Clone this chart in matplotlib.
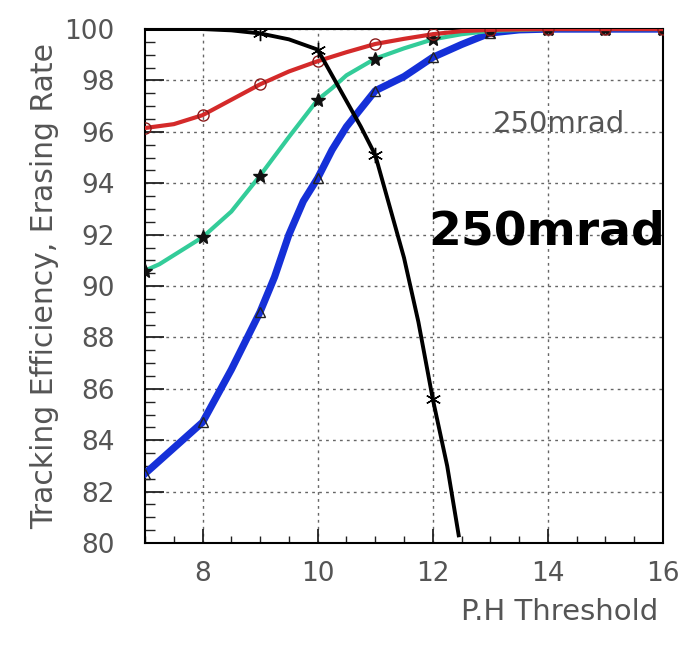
import matplotlib.pyplot as plt
from matplotlib.ticker import MultipleLocator

# P.H threshold values
x_red = [7, 7.5, 8, 8.5, 9, 9.5, 10, 10.5, 11, 11.5, 12, 12.5, 13, 14, 15, 16]
y_red = [96.15, 96.3, 96.65, 97.25, 97.85, 98.35, 98.75, 99.1, 99.42, 99.62, 99.8, 99.92, 99.97, 100, 100, 100]

x_green = [7, 7.25, 7.5, 7.75, 8, 8.5, 9, 9.5, 10, 10.25, 10.5, 11, 11.5, 12, 12.5, 13, 14, 15, 16]
y_green = [90.6, 90.85, 91.2, 91.55, 91.9, 92.9, 94.3, 95.8, 97.25, 97.7, 98.2, 98.85, 99.25, 99.6, 99.8, 99.93, 100, 100, 100]

x_blue = [7, 7.5, 8, 8.5, 9, 9.25, 9.5, 9.75, 10, 10.25, 10.5, 10.75, 11, 11.5, 12, 12.5, 13, 13.5, 14, 15, 16]
y_blue = [82.7, 83.7, 84.7, 86.75, 89.0, 90.35, 92.0, 93.3, 94.2, 95.3, 96.2, 96.9, 97.6, 98.15, 98.9, 99.4, 99.85, 99.97, 100, 100, 100]

x_black = [7, 8, 8.5, 9, 9.5, 10, 10.25, 10.5, 10.75, 11, 11.25, 11.5, 11.75, 12, 12.25, 12.45]
y_black = [100, 100, 99.95, 99.83, 99.6, 99.2, 98.2, 97.2, 96.2, 95.1, 93.1, 91.1, 88.6, 85.6, 83.0, 80.3]

text_gray = '#555555'
plt.rcParams['font.family'] = ['DejaVu Sans']

fig = plt.figure(figsize=(6.86, 6.46), dpi=100)
ax = fig.add_axes([0.2114, 0.1594, 0.7551, 0.7956])


def marks(xs, lo=7):
    return [i for i, v in enumerate(xs) if float(v).is_integer() and v >= lo]


ax.plot(x_blue, y_blue, color='#1530d8', lw=5.2, zorder=3,
        marker='^', ms=7, mfc='none', mec='#222222', mew=1.0, markevery=marks(x_blue))
ax.plot(x_green, y_green, color='#33cc99', lw=3, zorder=4,
        marker='*', ms=10, mfc='#111111', mec='#111111', markevery=marks(x_green))
ax.plot(x_red, y_red, color='#d42a2a', lw=3, zorder=5,
        marker='o', ms=8, mfc='none', mec='#8a1a1a', mew=1.0, markevery=marks(x_red))
ax.plot(x_black, y_black, color='black', lw=2.8, zorder=6,
        marker=(6, 2, 0), ms=11, mec='black', mew=1.0, markevery=marks(x_black, 9))

ax.set_xlim(7, 16)
ax.set_ylim(80, 100)
ax.xaxis.set_major_locator(MultipleLocator(2))
ax.xaxis.set_minor_locator(MultipleLocator(0.5))
ax.yaxis.set_major_locator(MultipleLocator(2))
ax.yaxis.set_minor_locator(MultipleLocator(0.5))

ax.grid(True, which='major', ls=(0, (2, 3)), color='#666666', lw=1.0)
ax.tick_params(axis='both', which='both', direction='in', top=False, right=False,
               labelsize=19, labelcolor=text_gray, color='#222222')
ax.tick_params(axis='y', which='major', length=14, width=1.3, pad=22)
ax.tick_params(axis='y', which='minor', length=7, width=1.0)
ax.tick_params(axis='x', which='major', length=10, width=1.3, pad=13)
ax.tick_params(axis='x', which='minor', length=5, width=1.0)
for s in ax.spines.values():
    s.set_linewidth(1.5)

ax.set_ylabel('Tracking Efficiency, Erasing Rate', fontsize=21.5, color=text_gray, labelpad=4)
ax.set_xlabel('P.H Threshold', fontsize=21, color=text_gray)
ax.xaxis.set_label_coords(0.99, -0.135)
ax.xaxis.label.set_horizontalalignment('right')
ax.xaxis.label.set_verticalalignment('center')

ax.text(0.80, 0.815, '250mrad', transform=ax.transAxes, fontsize=21,
        color=text_gray, ha='center', va='center', zorder=7)
ax.text(0.775, 0.605, '250mrad', transform=ax.transAxes, fontsize=34,
        fontweight='bold', color='black', ha='center', va='center', zorder=7)

fig.savefig('out.png', dpi=100)
